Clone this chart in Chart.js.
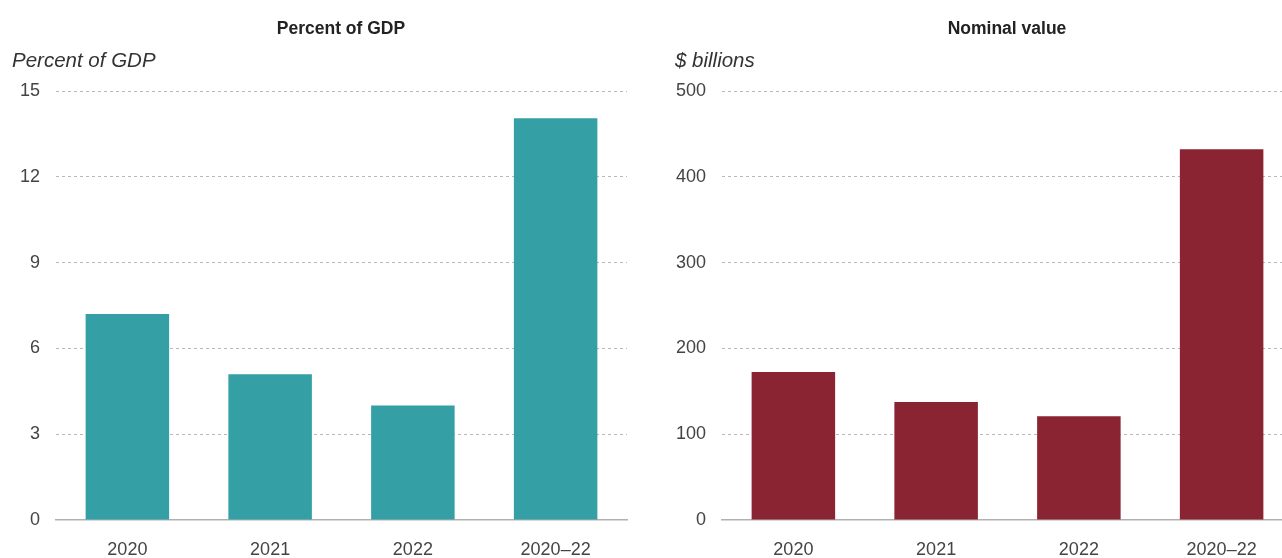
<!DOCTYPE html>
<html>
<head>
<meta charset="utf-8">
<script src="https://cdn.jsdelivr.net/npm/chart.js@4"></script>
<style>
  html, body { margin:0; padding:0; width:1282px; height:558px; overflow:hidden; background:#fff; font-family:"Liberation Sans", Arial, sans-serif; }
  .wrap { position:absolute; top:0; width:640px; height:558px; }
  .wrap canvas { position:absolute; left:0; top:0; }
  .title { position:absolute; top:18px; font-weight:bold; font-size:17.5px; color:#222; transform:translateX(-50%); white-space:nowrap; }
  .ytitle { position:absolute; top:48px; font-style:italic; font-size:20.5px; color:#333; white-space:nowrap; }
</style>
</head>
<body>
<div class="wrap" id="w1" style="left:0px;">
  <canvas id="c1" width="640" height="558"></canvas>
  <div class="title" style="left:341px;">Percent of GDP</div>
  <div class="ytitle" style="left:12px;">Percent of GDP</div>
</div>
<div class="wrap" id="w2" style="left:666px;">
  <canvas id="c2" width="640" height="558"></canvas>
  <div class="title" style="left:341px;">Nominal value</div>
  <div class="ytitle" style="left:9px;">$ billions</div>
</div>
<script>
const categories = ["2020", "2021", "2022", "2020\u201322"];
const pctGDP = [7.2, 5.1, 4.0, 14.05];
const nominalBillions = [172.5, 137.5, 121, 432];
const pctTicks = [0, 3, 6, 9, 12, 15];
const nominalTicks = [0, 100, 200, 300, 400, 500];

function makeChart(id, values, color, ticks) {
  const tickFont = { family: "'Liberation Sans', Arial, sans-serif", size: 18 };
  return new Chart(document.getElementById(id), {
    type: 'bar',
    data: {
      labels: categories,
      datasets: [{ data: values, backgroundColor: color, borderWidth: 0,
                   categoryPercentage: 1.0, barPercentage: 0.585 }]
    },
    options: {
      responsive: false,
      animation: false,
      events: [],
      layout: { padding: { top: 91, right: 13, bottom: 0, left: 0 } },
      plugins: { legend: { display: false }, tooltip: { enabled: false }, title: { display: false } },
      scales: {
        x: {
          grid: { display: false, drawTicks: false },
          border: { display: true, color: '#b0b0b0', width: 1.5 },
          ticks: { color: '#444', font: tickFont, padding: 19, maxRotation: 0 },
          afterFit: (s) => { s.height = 38; }
        },
        y: {
          min: ticks[0],
          max: ticks[ticks.length - 1],
          afterBuildTicks: (s) => { s.ticks = ticks.map(v => ({ value: v })); },
          grid: {
            drawTicks: false,
            color: (ctx) => ctx.tick && ctx.tick.value === 0 ? 'rgba(0,0,0,0)' : '#b8b8b8',
            lineWidth: 1
          },
          border: { display: false, dash: [3, 3] },
          ticks: { color: '#444', font: tickFont, padding: 16 },
          afterFit: (s) => { s.width = 56; }
        }
      }
    }
  });
}

makeChart('c1', pctGDP, '#34a0a6', pctTicks);
makeChart('c2', nominalBillions, '#8a2433', nominalTicks);
</script>
</body>
</html>
